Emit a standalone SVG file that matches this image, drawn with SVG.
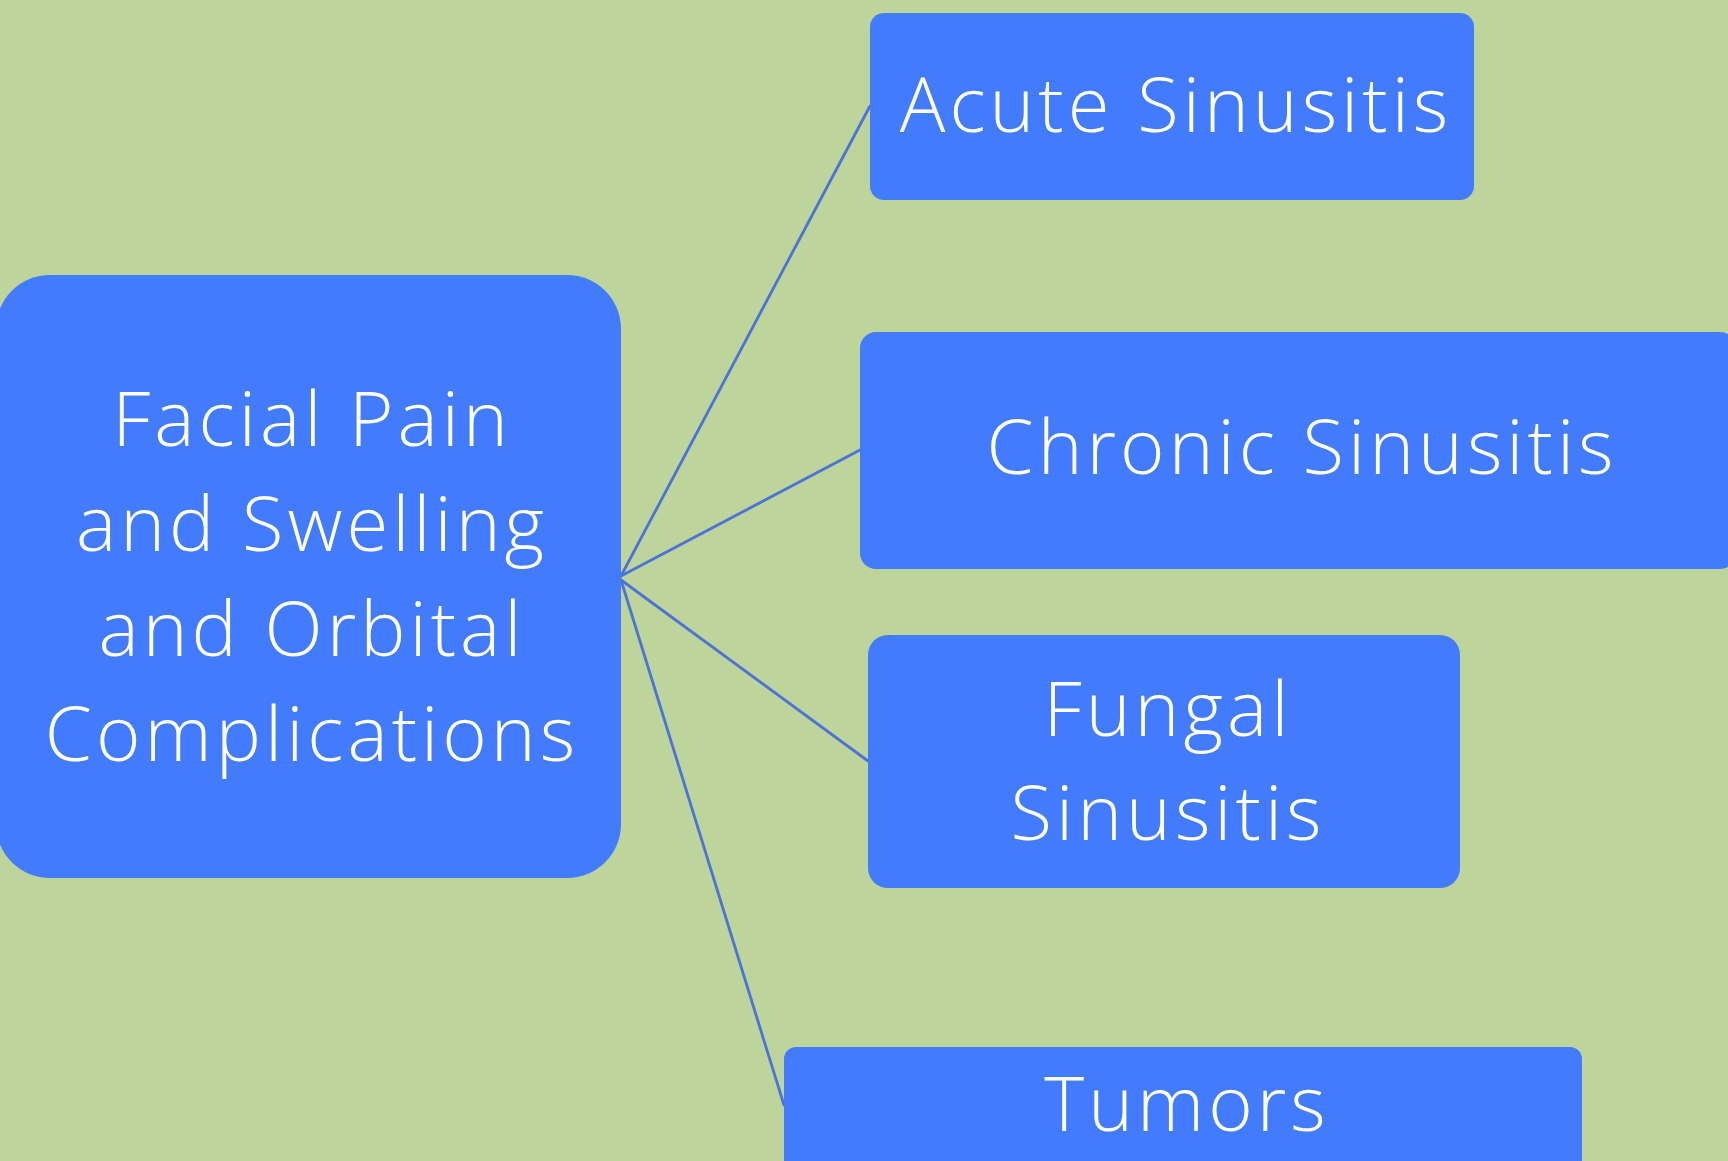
<svg xmlns="http://www.w3.org/2000/svg" width="1728" height="1161" viewBox="0 0 1728 1161">
  <style>
    .node { fill: #437bfd; }
    .label { fill: #ffffff; font-family: "Open Sans", "Liberation Sans", sans-serif; font-size: 76px; font-weight: 300; letter-spacing: 4px; text-anchor: middle; }
    .link { stroke: #4d72d9; stroke-width: 2.8; fill: none; stroke-linecap: round; }
  </style>
  <rect x="0" y="0" width="1728" height="1161" fill="#bdd49a"/>

  <!-- connectors fan out from the right edge of the root node -->
  <g id="connectors">
    <line class="link" x1="621" y1="576" x2="870" y2="106"/>
    <line class="link" x1="621" y1="576" x2="860" y2="450"/>
    <line class="link" x1="621" y1="580" x2="868" y2="761"/>
    <line class="link" x1="621" y1="580" x2="784" y2="1105"/>
  </g>

  <g id="root">
    <rect class="node" x="-4" y="275" width="625" height="603" rx="54"/>
    <text class="label" x="312" y="446">Facial Pain</text>
    <text class="label" x="312" y="551">and Swelling</text>
    <text class="label" x="312" y="656">and Orbital</text>
    <text class="label" x="312" y="761">Complications</text>
  </g>

  <g id="acute">
    <rect class="node" x="870" y="13" width="604" height="187" rx="14"/>
    <text class="label" x="1176" y="132">Acute Sinusitis</text>
  </g>

  <g id="chronic">
    <rect class="node" x="860" y="332" width="876" height="237" rx="16"/>
    <text class="label" x="1302" y="474">Chronic Sinusitis</text>
  </g>

  <g id="fungal">
    <rect class="node" x="868" y="635" width="592" height="253" rx="20"/>
    <text class="label" x="1168" y="736">Fungal</text>
    <text class="label" x="1168" y="840">Sinusitis</text>
  </g>

  <g id="tumors">
    <rect class="node" x="784" y="1047" width="798" height="126" rx="12"/>
    <text class="label" x="1187" y="1131">Tumors</text>
  </g>
</svg>
